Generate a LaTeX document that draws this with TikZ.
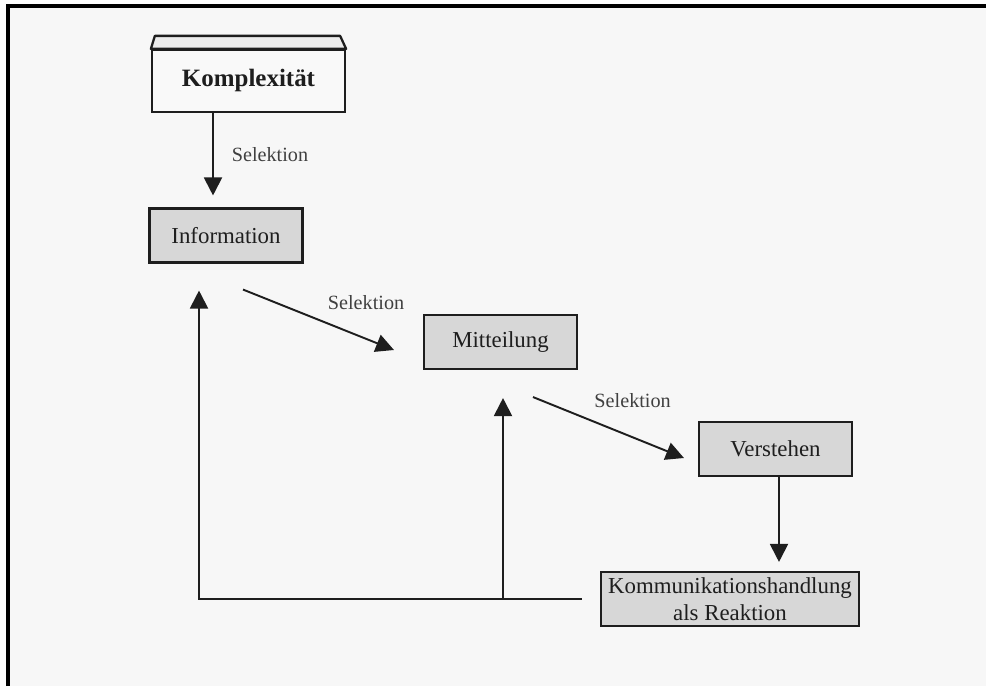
\documentclass[tikz,border=0pt]{standalone}
\usepackage{fontspec}
\setmainfont{Liberation Serif}
\usetikzlibrary{arrows.meta, positioning, calc}
\definecolor{paper}{HTML}{F7F7F7}
\definecolor{boxgray}{HTML}{D7D7D7}
\definecolor{ink}{HTML}{1E1E1E}
\tikzset{
  box/.style={draw=ink, line width=1.2pt, fill=boxgray, minimum height=1.08cm, minimum width=3.06cm, align=center, inner sep=1pt, text=ink, font=\fontsize{13}{15.5}\selectfont},
  headbox/.style={draw=ink, line width=1.3pt, fill=white!95!gray, minimum height=1.24cm, minimum width=3.86cm, align=center, text=ink, font=\fontsize{14.2}{16}\selectfont\bfseries},
  arr/.style={-{Triangle[length=3.6mm, width=3.6mm]}, line width=1.1pt, draw=ink},
  note/.style={font=\fontsize{11.5}{13}\selectfont, text=ink!85},
}
\begin{document}
\begin{tikzpicture}[x=0.02cm, y=-0.02cm]
  \useasboundingbox (0,0) rectangle (986,686);
  \fill[white] (0,0) rectangle (986,686);
  \fill[paper] (8,6) rectangle (986,686);
  \draw[black, line width=2.4pt] (8,686) -- (8,6) -- (986,6);

  % boxes
  \node[headbox] (komp) at (248.5,81) {Komplexität};
  \filldraw[fill=gray!15, draw=ink, line width=1.3pt, line join=round]
    (komp.north west) -- ++(4,-13) -- ($(komp.north east)+(-6,-13)$) -- (komp.north east) -- cycle;
  \node[box] (info) at (226,235.5) {Information};
  \node[box] (mitt) at (500.5,342) {Mitteilung};
  \node[box] (verst) at (775.5,449) {Verstehen};
  \node[box, minimum width=5.16cm] (komm) at (730,599) {Kommunikationshandlung\\als Reaktion};

  % selection steps
  \draw[arr] ([xshift=-0.71cm]komp.south) -- node[note, right=0.24cm] {Selektion} ([xshift=-0.26cm, yshift=0.24cm]info.north);
  \draw[arr] ([xshift=0.34cm, yshift=-0.52cm]info.south) -- node[note, pos=0.815, yshift=0.73cm] {Selektion} ([xshift=-0.58cm, yshift=-0.16cm]mitt.west);
  \draw[arr] ([xshift=0.65cm, yshift=-0.54cm]mitt.south) -- node[note, pos=0.66, yshift=0.74cm] {Selektion} ([xshift=-0.28cm, yshift=-0.18cm]verst.west);
  \draw[arr] ([xshift=0.07cm]verst.south) -- ([xshift=0.98cm, yshift=0.18cm]komm.north);

  % feedback
  \coordinate (fb1) at ([xshift=-0.54cm, yshift=-0.54cm]info.south);
  \coordinate (fb2) at ([xshift=0.05cm, yshift=-0.56cm]mitt.south);
  \draw[arr] ([xshift=-0.36cm]komm.west) -| (fb1);
  \draw[arr] (fb2 |- komm.west) -- (fb2);
\end{tikzpicture}
\end{document}
